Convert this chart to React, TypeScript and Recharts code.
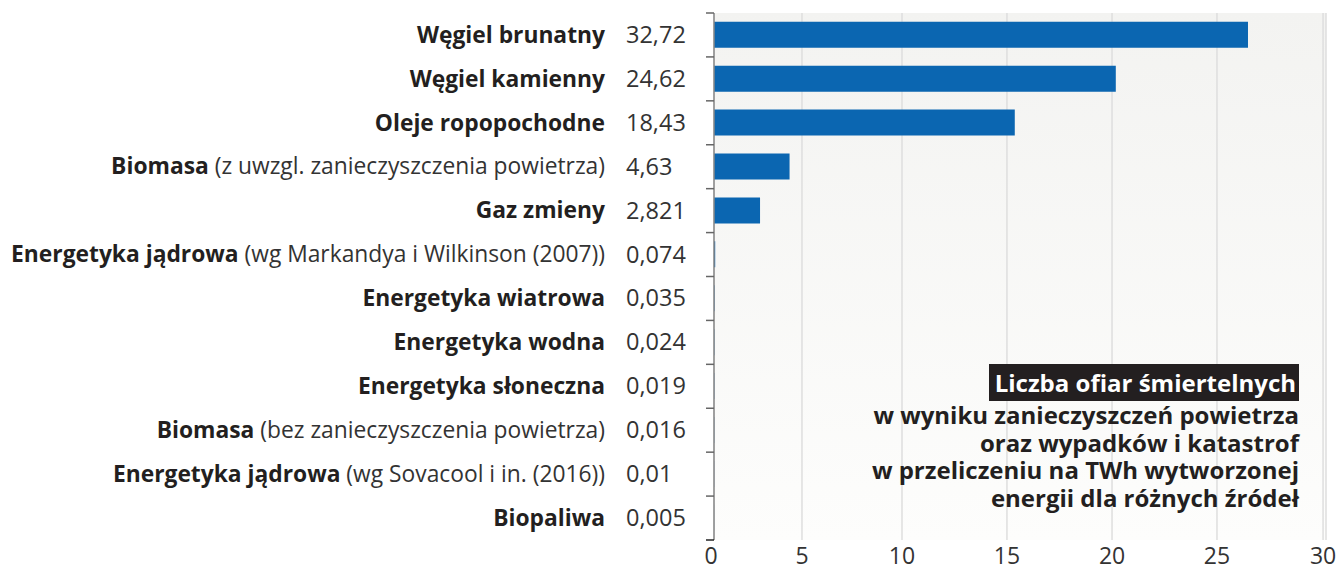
import { BarChart, Bar, XAxis, YAxis, CartesianGrid } from "recharts";

const SOURCES = [
  "Węgiel brunatny",
  "Węgiel kamienny",
  "Oleje ropopochodne",
  "Biomasa",
  "Gaz zmieny",
  "Energetyka jądrowa",
  "Energetyka wiatrowa",
  "Energetyka wodna",
  "Energetyka słoneczna",
  "Biomasa",
  "Energetyka jądrowa",
  "Biopaliwa",
];

const NOTES = [
  "",
  "",
  "",
  "(z uwzgl. zanieczyszczenia powietrza)",
  "",
  "(wg Markandya i Wilkinson (2007))",
  "",
  "",
  "",
  "(bez zanieczyszczenia powietrza)",
  "(wg Sovacool i in. (2016))",
  "",
];

const DEATHS_PER_TWH = [32.72, 24.62, 18.43, 4.63, 2.821, 0.074, 0.035, 0.024, 0.019, 0.016, 0.01, 0.005];

// the source's axis labels do not line up with its bars; these are where they sit, in bar units
const TICK_AT = [0, 5.39, 11.52, 17.95, 24.39, 30.82, 37.32];
const TICK_LABELS = ["0", "5", "10", "15", "20", "25", "30"];

const TITLE = "Liczba ofiar śmiertelnych";
const SUBTITLE = [
  "w wyniku zanieczyszczeń powietrza",
  "oraz wypadków i katastrof",
  "w przeliczeniu na TWh wytworzonej",
  "energii dla różnych źródeł",
];

const data = SOURCES.map((name, i) => ({
  key: `${i}`,
  name,
  note: NOTES[i],
  value: DEATHS_PER_TWH[i],
}));

const FONT = "'Open Sans', sans-serif";
const DARK = "#231f20";

function SourceTick(props: any) {
  const { x, y, payload, index } = props;
  const row = data[index];
  const half = payload.offset ?? 0;
  const last = index === data.length - 1;
  return (
    <g>
      <line x1={x - 8} x2={x} y1={y - half} y2={y - half} stroke="#666" strokeWidth={1.5} />
      {last && <line x1={x - 8} x2={x} y1={y + half} y2={y + half} stroke="#222" strokeWidth={1.5} />}
      <text x={x - 109} y={y} dy="0.34em" textAnchor="end" fontSize={22.8} fontFamily={FONT}>
        <tspan fontWeight={700} fill={DARK}>{row.name}</tspan>
        {row.note && <tspan fill="#333" fontWeight={400}>{" " + row.note}</tspan>}
      </text>
      <text x={x - 88} y={y} dy="0.34em" textAnchor="start" fontSize={23.5} fontFamily={FONT} fill="#333">
        {String(row.value).replace(".", ",")}
      </text>
    </g>
  );
}

function ValueTick(props: any) {
  const { x, y, index } = props;
  return (
    <text x={index === 0 ? x - 3 : x} y={y + 24} textAnchor="middle" fontSize={23} fontFamily={FONT} fill="#333">
      {TICK_LABELS[index]}
    </text>
  );
}

export default function App() {
  return (
    <div style={{ position: "absolute", left: 0, top: 0, width: 1336, height: 566, background: "#fff" }}>
      <BarChart
        width={1336}
        height={566}
        data={data}
        layout="vertical"
        margin={{ top: 13, right: 10, bottom: 0, left: 0 }}
        barCategoryGap="20%"
      >
        <defs>
          <linearGradient id="plotBg" x1="0" y1="0" x2="0" y2="1">
            <stop offset="0%" stopColor="#f3f3f1" />
            <stop offset="100%" stopColor="#fdfdfc" />
          </linearGradient>
        </defs>
        <CartesianGrid horizontal={false} stroke="#dedede" strokeWidth={1.5} fill="url(#plotBg)" />
        <XAxis
          type="number"
          domain={[0, 37.5]}
          ticks={TICK_AT}
          interval={0}
          height={26}
          axisLine={false}
          tickLine={false}
          tickSize={0}
          tickMargin={0}
          tick={<ValueTick />}
        />
        <YAxis
          type="category"
          dataKey="key"
          width={714}
          axisLine={{ stroke: "#888", strokeWidth: 1.5 }}
          tickLine={false}
          tickSize={0}
          tickMargin={0}
          interval={0}
          tick={<SourceTick />}
        />
        <Bar dataKey="value" fill="#0b66b1" isAnimationActive={false} />
      </BarChart>
      <div
        style={{
          position: "absolute",
          right: 37,
          top: 364,
          textAlign: "right",
          fontFamily: FONT,
          fontWeight: 700,
          fontSize: 24,
          color: DARK,
        }}
      >
        <span
          style={{
            display: "inline-block",
            background: DARK,
            color: "#fff",
            lineHeight: "37px",
            padding: "0 3px 0 6px",
          }}
        >
          {TITLE}
        </span>
        {SUBTITLE.map((line) => (
          <div key={line} style={{ lineHeight: "27.5px" }}>
            {line}
          </div>
        ))}
      </div>
    </div>
  );
}
